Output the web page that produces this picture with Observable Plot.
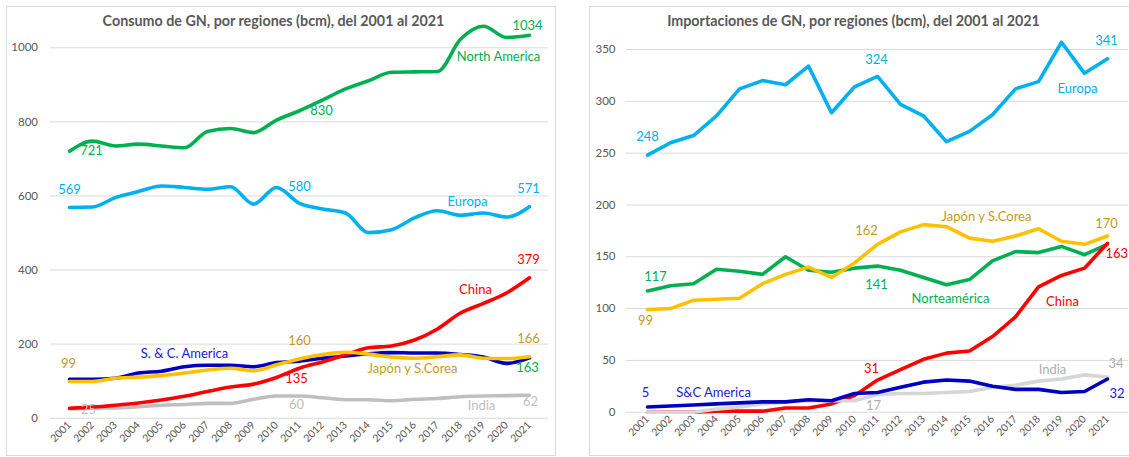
<!DOCTYPE html>
<html><head><meta charset="utf-8">
<script src="https://cdn.jsdelivr.net/npm/d3@7"></script>
<script src="https://cdn.jsdelivr.net/npm/@observablehq/plot@0.6"></script>
<style>
body{margin:0;background:#fff;width:1129px;height:457px;overflow:hidden;font-family:Lato,sans-serif;position:relative;}
.panel{position:absolute;top:6px;height:448px;border:1px solid #D9D9D9;background:#fff;overflow:visible;}
.title{position:absolute;top:5px;left:0;text-align:center;font-weight:bold;font-size:14.3px;color:#595959;white-space:nowrap;z-index:2;}
.panel svg{position:absolute;left:0;top:0;}
</style></head><body>
<div id="p1" class="panel" style="left:6px;width:548px"><div class="title" style="width:533px">Consumo de GN, por regiones (bcm), del 2001 al 2021</div></div>
<div id="p2" class="panel" style="left:589px;width:560px"><div class="title" style="width:527px">Importaciones de GN, por regiones (bcm), del 2001 al 2021</div></div>
<script>
const years = [2001,2002,2003,2004,2005,2006,2007,2008,2009,2010,2011,2012,2013,2014,2015,2016,2017,2018,2019,2020,2021];

// Consumo (bcm)
const consumoNorthAmerica = [721,748,735,740,735,730,774,782,771,805,830,859,889,911,934,935,936,1023,1058,1028,1034];
const consumoEuropa       = [569,570,596,612,627,623,618,625,578,623,580,565,554,501,509,541,560,548,554,543,571];
const consumoChina        = [27,30,35,41,49,59,72,84,92,110,135,152,171,190,195,211,241,284,310,338,379];
const consumoSCAmerica    = [105,105,108,122,127,139,143,143,139,150,154,162,168,174,177,176,176,172,165,148,163];
const consumoJaponCorea   = [99,99,108,111,115,122,130,135,128,144,160,172,178,173,165,162,166,171,162,161,166];
const consumoIndia        = [25,27,28,31,35,37,40,40,51,60,60,55,50,50,47,51,53,58,60,61,62];
const consumoTicks = [0,200,400,600,800,1000];

// Importaciones (bcm)
const importEuropa        = [248,260,267,286,312,320,316,334,289,314,324,297,286,261,271,287,312,319,357,327,341];
const importJaponCorea    = [99,100,108,109,110,124,133,140,130,144,162,174,181,179,168,165,170,177,165,162,170];
const importNorteamerica  = [117,122,124,138,136,133,150,137,135,139,141,137,130,123,128,146,155,154,160,152,162];
const importChina         = [0,0,0,1,1,1,4,4,8,16,31,41,51,57,59,73,92,121,132,139,163];
const importIndia         = [0,0,0,3,5,8,10,11,11,11,17,18,18,19,20,24,26,30,32,36,34];
const importSCAmerica     = [5,6,7,8,9,10,10,12,11,18,19,24,29,31,30,25,22,22,19,20,32];
const importTicks = [0,50,100,150,200,250,300,350];

const table = arr => years.map((y,i)=>({year:y, value:arr[i]}));

function chart(cfg){
  const lookup = {};
  cfg.series.forEach(s=>lookup[s.key]=s);
  const marks = [
    Plot.gridY({ticks:cfg.ticks, stroke:"#D9D9D9", strokeOpacity:1, strokeWidth:1}),
    Plot.axisY({ticks:cfg.ticks, tickSize:0, tickPadding:cfg.tickPad, label:null, tickFormat:d=>String(d)}),
    Plot.axisX({tickSize:0, tickRotate:-45, tickPadding:5, fontSize:10.5, label:null, tickFormat:d=>String(d)})
  ];
  for (const s of cfg.order.map(k=>lookup[k])) {
    marks.push(Plot.line(table(s.values), {x:"year", y:"value", stroke:s.color, strokeWidth:3.6, curve:cfg.curve, strokeLinejoin:"round"}));
  }
  for (const l of cfg.labels) {
    const s = lookup[l.s];
    const i = years.indexOf(l.year);
    const d = [{year:l.year, value:s.values[i], text: l.text ?? String(s.values[i])}];
    marks.push(Plot.text(d, {x:"year", y:"value", text:"text", dx:l.dx, dy:l.dy, fill:l.color ?? s.text, fontSize:13, textAnchor:l.anchor ?? "middle"}));
  }
  const svg = Plot.plot({
    width:cfg.width, height:448,
    marginLeft:cfg.ml, marginRight:cfg.mr, marginTop:cfg.mt, marginBottom:cfg.mb,
    x:{type:"point", domain:years, padding:0.5, axis:null, label:null},
    y:{domain:cfg.domain, axis:null, label:null},
    style:{fontFamily:"Lato, sans-serif", fontSize:"11.5px", color:"#595959", background:"transparent", overflow:"visible"},
    marks
  });
  document.getElementById(cfg.el).appendChild(svg);
}

chart({
  el:"p1", width:548, ml:43, mr:7, mt:40.3, mb:37.3, domain:[0,1000], ticks:consumoTicks, tickPad:12.5, curve:"monotone-x",
  series:[
    {key:"NA", values:consumoNorthAmerica, color:"#00B050", text:"#00B050"},
    {key:"EU", values:consumoEuropa, color:"#00B0F0", text:"#00B0F0"},
    {key:"CN", values:consumoChina, color:"#FF0000", text:"#FF0000"},
    {key:"SC", values:consumoSCAmerica, color:"#0000C0", text:"#1A1AD6"},
    {key:"JP", values:consumoJaponCorea, color:"#FFC000", text:"#C59A1C"},
    {key:"IN", values:consumoIndia, color:"#BFBFBF", text:"#BFBFBF"}
  ],
  order:["IN","SC","CN","JP","EU","NA"],
  labels:[
    {s:"NA", year:2001, dx:22, dy:0},
    {s:"NA", year:2011, dx:22, dy:0},
    {s:"NA", year:2021, dx:-2, dy:-9},
    {s:"NA", year:2021, dx:-31, dy:22, text:"North America"},
    {s:"EU", year:2001, dx:0, dy:-18},
    {s:"EU", year:2011, dx:0, dy:-17},
    {s:"EU", year:2021, dx:-1, dy:-18},
    {s:"EU", year:2021, dx:-62, dy:-5, text:"Europa"},
    {s:"CN", year:2011, dx:-3, dy:11},
    {s:"CN", year:2021, dx:-1, dy:-18},
    {s:"CN", year:2021, dx:-54, dy:12, text:"China"},
    {s:"JP", year:2001, dx:-1, dy:-18},
    {s:"JP", year:2011, dx:0, dy:-18},
    {s:"JP", year:2021, dx:-1, dy:-18},
    {s:"JP", year:2016, dx:-2, dy:11, text:"Japón y S.Corea"},
    {s:"SC", year:2021, dx:-2, dy:10, color:"#00B050"},
    {s:"SC", year:2006, dx:0, dy:-13, text:"S. & C. America"},
    {s:"IN", year:2001, dx:19, dy:1},
    {s:"IN", year:2011, dx:-3, dy:9},
    {s:"IN", year:2021, dx:1, dy:7},
    {s:"IN", year:2021, dx:-48, dy:11, text:"India"}
  ]
});

chart({
  el:"p2", width:560, ml:36, mr:22, mt:42, mb:43.3, domain:[0,350], ticks:importTicks, tickPad:11, curve:"linear",
  series:[
    {key:"EU", values:importEuropa, color:"#00B0F0", text:"#00B0F0"},
    {key:"JP", values:importJaponCorea, color:"#FFC000", text:"#C59A1C"},
    {key:"NA", values:importNorteamerica, color:"#00B050", text:"#00B050"},
    {key:"CN", values:importChina, color:"#FF0000", text:"#FF0000"},
    {key:"IN", values:importIndia, color:"#D6D6D6", text:"#AFAFAF"},
    {key:"SC", values:importSCAmerica, color:"#0000C0", text:"#1A1AD6"}
  ],
  order:["NA","JP","EU","CN","IN","SC"],
  labels:[
    {s:"EU", year:2001, dx:0, dy:-18},
    {s:"EU", year:2011, dx:-1, dy:-17},
    {s:"EU", year:2021, dx:-1, dy:-18},
    {s:"EU", year:2021, dx:-30, dy:30, text:"Europa"},
    {s:"JP", year:2001, dx:-2, dy:11},
    {s:"JP", year:2011, dx:-11, dy:-13},
    {s:"JP", year:2021, dx:-1, dy:-12},
    {s:"JP", year:2016, dx:-6, dy:-24, text:"Japón y S.Corea"},
    {s:"NA", year:2001, dx:8, dy:-14},
    {s:"NA", year:2011, dx:-1, dy:19},
    {s:"NA", year:2014, dx:4, dy:14, text:"Norteamérica"},
    {s:"CN", year:2011, dx:-6, dy:-11},
    {s:"CN", year:2021, dx:-2, dy:11, anchor:"start"},
    {s:"CN", year:2019, dx:1, dy:26, text:"China"},
    {s:"IN", year:2011, dx:-4, dy:11},
    {s:"IN", year:2021, dx:1, dy:-13, anchor:"start"},
    {s:"IN", year:2019, dx:-9, dy:-9, text:"India"},
    {s:"SC", year:2001, dx:-2, dy:-14},
    {s:"SC", year:2021, dx:2, dy:15, anchor:"start"},
    {s:"SC", year:2004, dx:-3, dy:-11, text:"S&C America"}
  ]
});
</script>
</body></html>
